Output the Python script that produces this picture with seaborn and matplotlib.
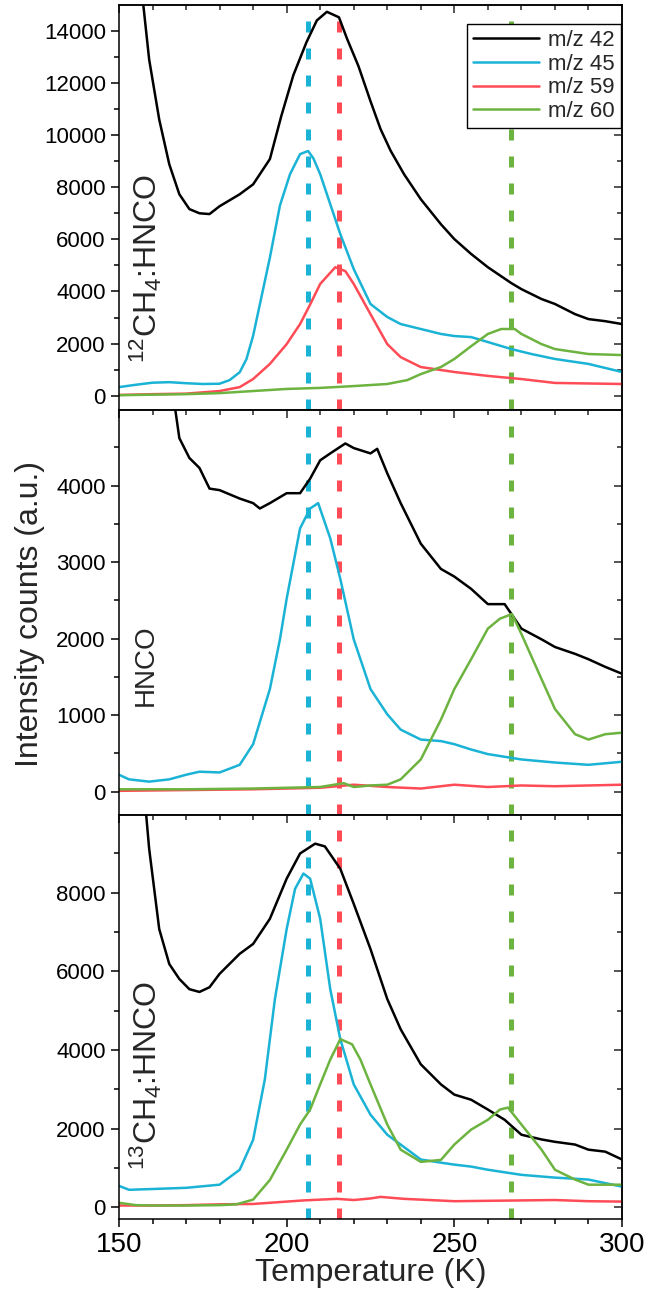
import matplotlib
matplotlib.use("Agg")
import matplotlib.pyplot as plt
from matplotlib.ticker import MultipleLocator
import numpy as np
import pandas as pd
import seaborn as sns

# ---- data ----
labels = ["m/z 42", "m/z 45", "m/z 59", "m/z 60"]
colors = ["#000000", "#1AB3D6", "#FF4B55", "#6DB33F"]
peak_T = [206.3, 215.6, 266.8]
peak_colors = ["#1AB3D6", "#FF4B55", "#6DB33F"]

# panel 1: 12CH4:HNCO
T1_42 = [150, 153, 156, 159, 162, 165, 168, 171, 174, 177, 180, 186, 190, 195, 198.4, 202, 205.9, 209, 212,
         215.6, 218, 221.4, 225, 228, 231, 235, 240, 246, 250, 255, 260, 267, 270, 276, 280, 286, 290, 295, 300]
I1_42 = [26000, 20500, 16500, 12900, 10600, 8880, 7730, 7160, 7000, 6970, 7270, 7730, 8110, 9080, 10730, 12300,
         13560, 14400, 14730, 14520, 13700, 12650, 11300, 10230, 9400, 8500, 7540, 6580, 6010, 5440, 4930, 4320,
         4090, 3710, 3520, 3130, 2940, 2860, 2750]
T1_45 = [150, 155, 160, 165, 170, 175, 180, 183, 186, 188, 190, 192, 195, 198, 201, 204, 206.4, 208, 210, 213,
         216, 220, 225, 230, 234, 240, 246, 250, 255, 260, 267, 273, 280, 290, 300]
I1_45 = [330, 420, 500, 520, 480, 450, 460, 600, 900, 1400, 2300, 3500, 5300, 7300, 8500, 9270, 9390, 9100, 8500,
         7350, 6200, 4860, 3520, 3020, 2750, 2560, 2370, 2290, 2250, 2060, 1790, 1600, 1410, 1220, 910]
T1_59 = [150, 160, 170, 180, 186, 190, 195, 200, 204, 207, 210, 214.5, 217.5, 220, 225, 230, 234, 240, 250, 260,
         270, 280, 290, 300]
I1_59 = [30, 60, 80, 180, 330, 640, 1220, 1980, 2750, 3500, 4290, 4930, 4780, 4290, 3130, 1980, 1480, 1100, 910,
         760, 640, 490, 470, 450]
T1_60 = [150, 160, 170, 180, 190, 200, 210, 220, 230, 236, 240, 246, 250, 255, 260, 264, 268, 270, 276, 280, 290, 300]
I1_60 = [20, 40, 60, 100, 180, 260, 300, 370, 450, 600, 830, 1100, 1410, 1900, 2370, 2560, 2560, 2370, 1980, 1790,
         1600, 1560]

# panel 2: HNCO
T2_42 = [150, 155, 160, 164, 166.7, 168, 171, 174, 177, 180, 186, 190, 192, 195, 200, 204, 207, 210, 213, 217.5,
         220, 225, 227, 230, 234, 240, 246, 250, 255, 260, 265, 270, 276, 280, 286, 290, 295, 300]
I2_42 = [8500, 7200, 6100, 5400, 5020, 4620, 4360, 4230, 3960, 3940, 3830, 3770, 3700, 3770, 3900, 3900, 4090,
         4330, 4420, 4550, 4490, 4420, 4480, 4160, 3770, 3240, 2910, 2810, 2650, 2450, 2450, 2130, 1990, 1890,
         1800, 1730, 1630, 1540]
T2_45 = [150, 153, 159, 165, 170, 174, 180, 186, 190, 195, 198, 200, 204, 207, 209.4, 213, 216, 220, 225, 230,
         234, 240, 246, 250, 255, 260, 270, 280, 290, 300]
I2_45 = [220, 160, 130, 160, 220, 260, 250, 350, 620, 1340, 1990, 2520, 3440, 3700, 3770, 3310, 2780, 1990, 1340,
         1010, 810, 680, 660, 620, 550, 490, 420, 380, 350, 390]
T2_59 = [150, 170, 190, 210, 220, 230, 240, 250, 260, 270, 280, 290, 300]
I2_59 = [10, 20, 30, 50, 90, 60, 40, 90, 60, 80, 70, 80, 90]
T2_60 = [150, 170, 190, 210, 217, 220, 225, 230, 234, 240, 246, 250, 255, 260, 263.6, 267.2, 270, 276, 280, 286,
         290, 295, 300]
I2_60 = [30, 30, 40, 60, 110, 60, 80, 90, 160, 420, 940, 1340, 1730, 2130, 2260, 2320, 2060, 1470, 1080, 750, 680,
         750, 770]

# panel 3: 13CH4:HNCO
T3_42 = [150, 155, 159, 162, 165, 168, 171, 174, 177, 180, 186, 190, 195, 200, 204, 208.5, 211.4, 216, 220, 225,
         230, 234, 240, 246, 250, 255, 260, 265, 270, 276, 280, 286, 290, 295, 300]
I3_42 = [18000, 13000, 9120, 7080, 6190, 5810, 5550, 5480, 5600, 5940, 6450, 6700, 7340, 8360, 9000, 9250, 9180,
         8610, 7720, 6570, 5300, 4530, 3640, 3130, 2870, 2740, 2490, 2230, 1850, 1730, 1670, 1600, 1470, 1420, 1220]
T3_45 = [150, 153, 160, 170, 180, 186, 190, 193.5, 196.5, 200, 202.5, 205, 207, 210, 213, 216, 220, 225, 230, 234,
         240, 246, 250, 255, 260, 270, 280, 290, 300]
I3_45 = [550, 450, 470, 500, 580, 960, 1720, 3260, 5300, 7080, 8100, 8490, 8360, 7340, 5550, 4280, 3130, 2360,
         1850, 1600, 1220, 1140, 1090, 1040, 960, 830, 760, 710, 530]
T3_59 = [150, 160, 170, 180, 190, 200, 205, 210, 215, 220, 225, 228, 235, 240, 250, 260, 270, 280, 290, 300]
I3_59 = [50, 50, 60, 80, 90, 150, 180, 200, 220, 190, 230, 270, 220, 200, 160, 170, 180, 190, 160, 150]
T3_60 = [150, 155, 160, 170, 180, 185, 190, 195, 200, 204, 207, 210, 213, 216, 219.5, 222, 225, 230, 234, 240,
         246, 250, 255, 260, 263.6, 266, 270, 276, 280, 286, 290, 300]
I3_60 = [120, 60, 50, 50, 60, 80, 200, 700, 1470, 2110, 2490, 3130, 3760, 4280, 4150, 3760, 3130, 2110, 1470,
         1160, 1210, 1600, 1980, 2230, 2490, 2540, 2110, 1470, 960, 710, 580, 580]

panels = [
    ([(T1_42, I1_42), (T1_45, I1_45), (T1_59, I1_59), (T1_60, I1_60)], r"$^{12}$CH$_4$:HNCO",
     (-540, 14990), 2000, 1000, 0.35, 23),
    ([(T2_42, I2_42), (T2_45, I2_45), (T2_59, I2_59), (T2_60, I2_60)], "HNCO",
     (-300, 4990), 1000, 500, 0.37, 20),
    ([(T3_42, I3_42), (T3_45, I3_45), (T3_59, I3_59), (T3_60, I3_60)], r"$^{13}$CH$_4$:HNCO",
     (-300, 9990), 2000, 1000, 0.355, 23),
]

sns.set_theme(style="ticks")
plt.rcParams["font.family"] = ["Liberation Sans", "DejaVu Sans"]
plt.rcParams["mathtext.fontset"] = "custom"
plt.rcParams["mathtext.rm"] = "Liberation Sans"
plt.rcParams["mathtext.default"] = "regular"

fig, axes = plt.subplots(3, 1, figsize=(6.48, 12.93), dpi=100, sharex=True)
fig.subplots_adjust(left=0.1836, right=0.9599, top=0.9961, bottom=0.057, hspace=0)

for n, (series, name, ylim, major, minor, ypos, fsize) in enumerate(panels):
    ax = axes[n]
    frames = []
    for (t, v), lab in zip(series, labels):
        frames.append(pd.DataFrame({"T": t, "I": v, "mz": lab}))
    df = pd.concat(frames, ignore_index=True)
    sns.lineplot(data=df, x="T", y="I", hue="mz", hue_order=labels, palette=colors,
                 estimator=None, linewidth=1.8, legend=(n == 0), ax=ax)

    # dashed guide lines at the peak temperatures
    for t, c in zip(peak_T, peak_colors):
        ax.axvline(t, color=c, linewidth=3.6, linestyle=(0, (2.2, 3.2)), zorder=1)

    ax.set_xlim(150, 300)
    ax.set_ylim(*ylim)
    ax.yaxis.set_major_locator(MultipleLocator(major))
    ax.yaxis.set_minor_locator(MultipleLocator(minor))
    ax.xaxis.set_major_locator(MultipleLocator(50))
    ax.xaxis.set_minor_locator(MultipleLocator(10))
    ax.tick_params(which="both", direction="out", width=1.1, colors="black", labelsize=16)
    ax.tick_params(which="major", length=6)
    ax.tick_params(which="minor", length=3.5)
    ax.tick_params(axis="x", labelsize=20, pad=3)
    for s in ax.spines.values():
        s.set_linewidth(1.1)
        s.set_color("black")

    # mirrored ticks pointing inward on top/right
    top = ax.secondary_xaxis("top")
    top.xaxis.set_major_locator(MultipleLocator(50))
    top.xaxis.set_minor_locator(MultipleLocator(10))
    top.tick_params(which="both", direction="in", width=1.1, labeltop=False)
    top.tick_params(which="major", length=6)
    top.tick_params(which="minor", length=3.5)
    right = ax.secondary_yaxis("right")
    right.yaxis.set_major_locator(MultipleLocator(major))
    right.yaxis.set_minor_locator(MultipleLocator(minor))
    right.tick_params(which="both", direction="in", width=1.1, labelright=False)
    right.tick_params(which="major", length=6)
    right.tick_params(which="minor", length=3.5)

    ax.set_ylabel("")
    ax.set_xlabel("")
    ax.text(0.054, ypos, name, transform=ax.transAxes, rotation=90,
            ha="center", va="center", fontsize=fsize)

axes[0].legend(loc="upper right", bbox_to_anchor=(0.997, 0.952), borderaxespad=0, fontsize=16,
               frameon=True, fancybox=False, edgecolor="black", framealpha=1, handlelength=3.0,
               labelspacing=0.12, borderpad=0.25, handletextpad=0.4)
axes[0].get_legend().get_frame().set_linewidth(1.0)

axes[2].set_xlabel("Temperature (K)", fontsize=23, labelpad=0)
fig.text(0.046, 0.525, "Intensity counts (a.u.)", rotation=90, ha="center", va="center", fontsize=23)

fig.savefig("out.png", dpi=100)
